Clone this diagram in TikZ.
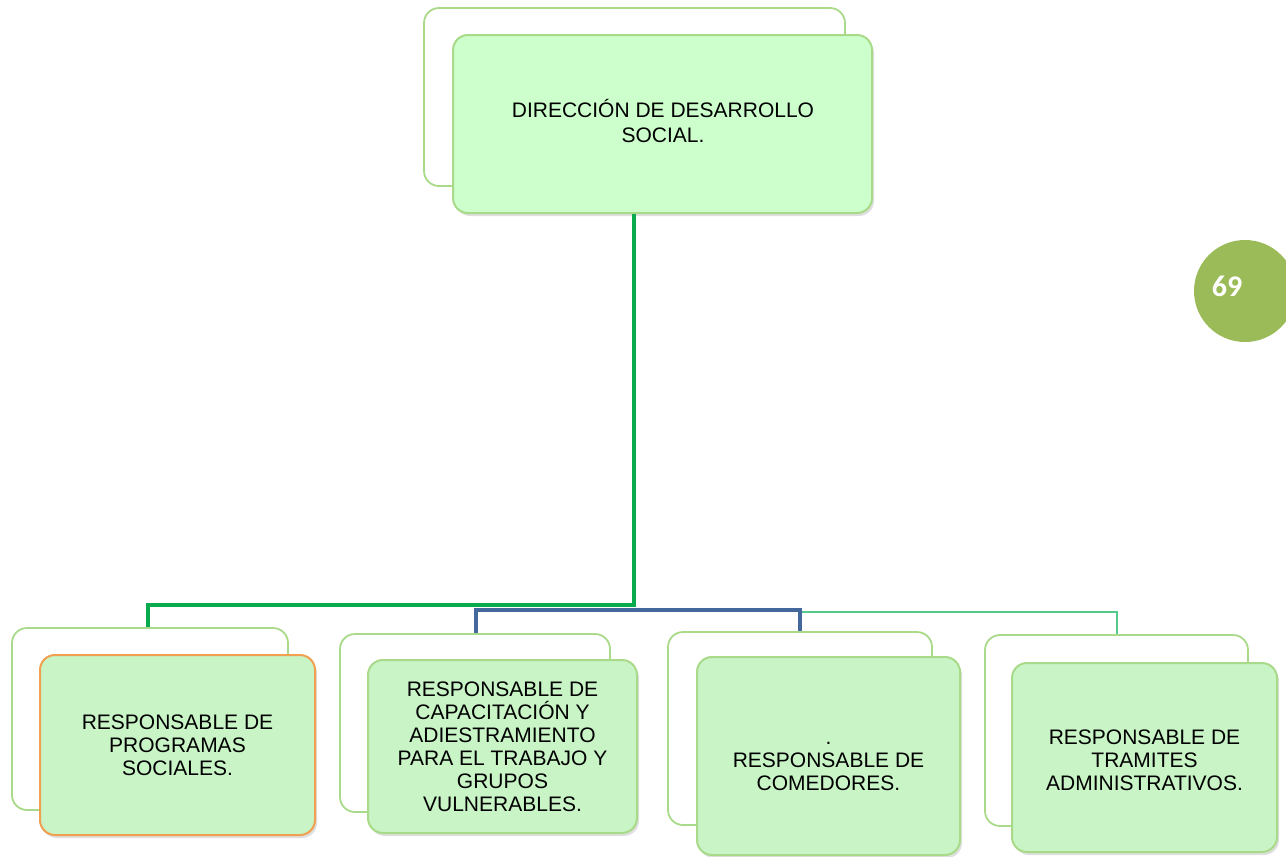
\documentclass[tikz,border=0pt]{standalone}
\usepackage{fontspec}
\setmainfont{Liberation Sans}
\newfontfamily\numfont{Carlito}
\usetikzlibrary{shadows}
\definecolor{bord}{HTML}{A9DA8A}
\definecolor{fillA}{HTML}{CCFFCC}
\definecolor{fillB}{HTML}{C8F4C6}
\definecolor{orangeb}{HTML}{F0A050}
\definecolor{mainline}{HTML}{0AAA4E}
\definecolor{blueline}{HTML}{44679C}
\definecolor{thinline}{HTML}{55C98A}
\definecolor{circ}{HTML}{9BBB59}
\begin{document}
\begin{tikzpicture}[x=1pt,y=-1pt,
  backbox/.style={draw=bord, line width=1.8pt, fill=white, rounded corners=15pt, inner sep=0pt},
  frontbox/.style={draw=bord, line width=2pt, fill=fillB, rounded corners=15pt, inner sep=0pt,
     align=center, font=\fontsize{21}{23}\selectfont,
     drop shadow={opacity=0.25, shadow xshift=2pt, shadow yshift=-3pt}},
  conn/.style={line width=#1, line join=miter}
]
\useasboundingbox (0,0) rectangle (1286,857);

% top
\node[backbox, minimum width=421pt, minimum height=178pt] (dirback) at (634.5,97) {};
\node[frontbox, fill=fillA, minimum width=419pt, minimum height=178pt] (dir) at (662.5,124) {};
\node[align=center, font=\fontsize{21}{25}\selectfont] (dirtext) at (663,121)
      {DIRECCIÓN DE DESARROLLO\\SOCIAL.};

% bottom back boxes
\node[backbox, minimum width=276pt, minimum height=182pt] (b1back) at (150,719) {};
\node[backbox, minimum width=270pt, minimum height=178pt] (b2back) at (475,723) {};
\node[backbox, minimum width=264pt, minimum height=193pt] (b3back) at (800,728.5) {};
\node[backbox, minimum width=263pt, minimum height=191pt] (b4back) at (1116.5,730.5) {};

% connectors
\coordinate (j1) at (634,605);
\coordinate (k1) at (148,605);
\coordinate (j2) at (634,610);
\coordinate (k2) at (476,610);
\coordinate (k3) at (800,610);
\coordinate (j4) at (800,612);
\coordinate (k4) at (1117,612);

\draw[conn=2pt, thinline] (j4) -- (k4) -- (k4 |- b4back.north);
\draw[conn=3.5pt, blueline] (k2 |- b2back.north) -- (k2) -- (k3) -- (k3 |- b3back.north);
\draw[conn=4.5pt, mainline] (dir.south -| j1) -- (j1) -- (k1) -- (k1 |- b1back.north);

% bottom front boxes
\node[frontbox, draw=orangeb, minimum width=275pt, minimum height=180pt] (b1) at (177.5,745)
  {RESPONSABLE DE\\PROGRAMAS\\SOCIALES.};
\node[frontbox, minimum width=269pt, minimum height=173pt] (b2) at (502.5,746.5)
  {RESPONSABLE DE\\CAPACITACIÓN Y\\ADIESTRAMIENTO\\PARA EL TRABAJO Y\\GRUPOS\\VULNERABLES.};
\node[frontbox, minimum width=263pt, minimum height=198pt] (b3) at (828.5,756) {};
\node[align=center, font=\fontsize{21}{23}\selectfont] (b3text) at (828.5,766)
  {.\\RESPONSABLE DE\\COMEDORES.};
\node[frontbox, minimum width=265pt, minimum height=189pt] (b4) at (1144.5,757.5) {};
\node[align=center, font=\fontsize{21}{23}\selectfont] (b4text) at (1144.5,760.5)
  {RESPONSABLE DE\\TRAMITES\\ADMINISTRATIVOS.};

% page number
\node[circle, fill=circ, minimum size=102pt, inner sep=0pt] (pg) at (1245,291) {};
\node[text=white, font=\numfont\bfseries\fontsize{30}{30}\selectfont] (pgnum) at (1227,286) {69};
\end{tikzpicture}
\end{document}
